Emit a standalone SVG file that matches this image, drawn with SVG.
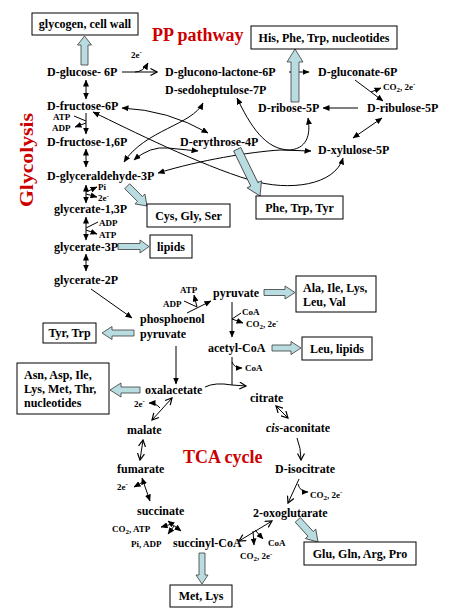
<svg xmlns="http://www.w3.org/2000/svg" width="451" height="614" viewBox="0 0 451 614">
<style>
text{font-family:"Liberation Serif","Times New Roman",serif;font-weight:bold;fill:#000}
.m{font-size:12px}
.s{font-size:9px}
.sub{font-size:7px}
.t{font-size:18px;fill:#cc0000}
.box{fill:#fff;stroke:#000;stroke-width:1}
.fat{fill:#b8dcdf;stroke:#3a3a3a;stroke-width:0.8}
.c{fill:none;stroke:#000;stroke-width:1}
.f{marker-end:url(#ah)}
.fb{marker-start:url(#ah);marker-end:url(#ah)}
.o{marker-end:url(#oh)}
.ob{marker-start:url(#oh);marker-end:url(#oh)}
</style>
<defs>
<marker id="ah" viewBox="0 0 7 6" refX="6.5" refY="3" markerWidth="7" markerHeight="6" markerUnits="userSpaceOnUse" orient="auto-start-reverse"><path d="M0,0 L7,3 L0,6 z" fill="#000"/></marker>
<marker id="oh" viewBox="0 0 8 8" refX="7" refY="4" markerWidth="8" markerHeight="8" markerUnits="userSpaceOnUse" orient="auto-start-reverse"><path d="M0.5,0.5 L7,4 L0.5,7.5" fill="none" stroke="#000" stroke-width="1.2"/></marker>
</defs>
<rect width="451" height="614" fill="#fff"/>

<!-- titles -->
<text class="t" x="152" y="41">PP pathway</text>
<text class="t" x="183" y="463">TCA cycle</text>
<text class="t" transform="translate(33,160) rotate(-90)" text-anchor="middle" style="font-size:19px" textLength="94" lengthAdjust="spacingAndGlyphs">Glycolysis</text>

<!-- connectors -->
<g id="connectors">
<path class="c o" d="M122,72 L157,72"/>
<path class="c f" d="M135,72 Q143,72 148,63"/>
<path class="c f" d="M289,72 L309,72"/>
<path class="c f" d="M355,80 L383,101"/>
<path class="c f" d="M371,92 L381,88"/>
<path class="c f" d="M358,108 L323,108"/>
<path class="c fb" d="M382,118 L353,138"/>
<path class="c fb" d="M86,80 L86,99"/>
<path class="c f" d="M86,113 L86,134"/>
<path class="c" d="M74,116 L86,121"/>
<path class="c f" d="M86,123 L75,127"/>
<path class="c fb" d="M86,149 L86,167"/>
<path class="c fb" d="M86,185 L86,203"/>
<path class="c f" d="M86,192 L97,187"/>
<path class="c f" d="M86,194 L97,197"/>
<path class="c fb" d="M86,217 L86,240"/>
<path class="c" d="M98,222 L86,228"/>
<path class="c f" d="M86,230 L97,234"/>
<path class="c fb" d="M86,254 L86,271"/>
<path class="c f" d="M91,289 L132,318"/>
<path class="c f" d="M187,313 L211,301"/>
<path class="c" d="M184,301 L197,307"/>
<path class="c f" d="M197,307 L194,295"/>
<path class="c f" d="M232,302 L232,337"/>
<path class="c" d="M232,319 L241,313"/>
<path class="c f" d="M232,319 L243,323"/>
<path class="c" d="M232,357 L232,385"/>
<path class="c f" d="M232,362 Q234,368 242,368"/>
<path class="c o" d="M205,387 Q215,382 232,385 L246,386"/>
<path class="c f" d="M176,346 L176,384"/>
<path class="c fb" d="M122,108 Q168,110 208,133"/>
<path class="c fb" d="M203,103 C192,125 145,130 124,162"/>
<path class="c fb" d="M134,160 Q150,146 168,148 L198,151"/>
<path class="c fb" d="M93,112 C130,130 200,165 250,180 C290,192 335,185 343,158"/>
<path class="c fb" d="M158,173 C200,160 250,152 280,150 L311,151"/>
<path class="c fb" d="M237,98 C250,125 265,150 290,150 C310,148 310,130 308,118"/>
<path class="c ob" d="M172,398 L152,420"/>
<path class="c f" d="M160,408 Q156,403 149,403"/>
<path class="c ob" d="M143,440 L140,460"/>
<path class="c fb" d="M142,478 L150,501"/>
<path class="c f" d="M143,482 L134,487"/>
<path class="c fb" d="M168,521 L181,531"/>
<path class="c f" d="M172,524 L161,527"/>
<path class="c f" d="M174,526 L168,534"/>
<path class="c ob" d="M276,406 L288,418"/>
<path class="c o" d="M297,438 Q301,448 301,460"/>
<path class="c o" d="M299,479 L288,503"/>
<path class="c f" d="M298,484 Q300,492 308,492"/>
<path class="c ob" d="M272,521 L239,541"/>
<path class="c f" d="M253,531 L254,545"/>
<path class="c f" d="M255,530 L263,539"/>
<polygon class="fat" points="81,65 81,45 77.5,45 84.5,36 91.5,45 88,45 88,65"/>
<polygon class="fat" points="291,102 291,62 287,62 295,49 303,62 299,62 299,102"/>
<polygon class="fat" transform="translate(147,206) rotate(45)" points="-28,-3.5 -10,-3.5 -10,-7 0,0 -10,7 -10,3.5 -28,3.5"/>
<polygon class="fat" transform="translate(260,196) rotate(64)" points="-52,-4 -13,-4 -13,-8 0,0 -13,8 -13,4 -52,4"/>
<polygon class="fat" transform="translate(149,246.5)" points="-31,-3 -9,-3 -9,-6.5 0,0 -9,6.5 -9,3 -31,3"/>
<polygon class="fat" transform="translate(102,333) rotate(180)" points="-32,-3 -10,-3 -10,-6.5 0,0 -10,6.5 -10,3 -32,3"/>
<polygon class="fat" transform="translate(295,292.5)" points="-31,-3 -10,-3 -10,-6.5 0,0 -10,6.5 -10,3 -31,3"/>
<polygon class="fat" transform="translate(301,348)" points="-29,-3 -10,-3 -10,-6.5 0,0 -10,6.5 -10,3 -29,3"/>
<polygon class="fat" transform="translate(110,390) rotate(180)" points="-30,-3 -11,-3 -11,-7 0,0 -11,7 -11,3 -30,3"/>
<polygon class="fat" transform="translate(318,542) rotate(47.7)" points="-30,-3.5 -11,-3.5 -11,-7 0,0 -11,7 -11,3.5 -30,3.5"/>
<polygon class="fat" transform="translate(202,584) rotate(90)" points="-31,-3 -9,-3 -9,-6 0,0 -9,6 -9,3 -31,3"/>
</g>

<!-- metabolite nodes -->
<g id="glucose6p"><text class="m" x="47" y="76">D-glucose- 6P</text></g>
<g id="gluconolactone"><text class="m" x="165" y="76">D-glucono-lactone-6P</text></g>
<g id="gluconate"><text class="m" x="318" y="76">D-gluconate-6P</text></g>
<g id="sedoheptulose"><text class="m" x="165" y="94">D-sedoheptulose-7P</text></g>
<g id="fructose6p"><text class="m" x="47" y="110">D-fructose-6P</text></g>
<g id="ribose"><text class="m" x="258" y="112">D-ribose-5P</text></g>
<g id="ribulose"><text class="m" x="367" y="112">D-ribulose-5P</text></g>
<g id="fructose16p"><text class="m" x="47" y="146">D-fructose-1,6P</text></g>
<g id="erythrose"><text class="m" x="180" y="146">D-erythrose-4P</text></g>
<g id="xylulose"><text class="m" x="318" y="154">D-xylulose-5P</text></g>
<g id="gap"><text class="m" x="47" y="180">D-glyceraldehyde-3P</text></g>
<g id="g13p"><text class="m" x="54" y="213">glycerate-1,3P</text></g>
<g id="g3p"><text class="m" x="54" y="251">glycerate-3P</text></g>
<g id="g2p"><text class="m" x="54" y="284">glycerate-2P</text></g>
<g id="pep"><text class="m" x="140" y="323">phosphoenol</text><text class="m" x="140" y="338">pyruvate</text></g>
<g id="pyruvate"><text class="m" x="213" y="297">pyruvate</text></g>
<g id="acetylcoa"><text class="m" x="208" y="352">acetyl-CoA</text></g>
<g id="oxalacetate"><text class="m" x="145" y="394">oxalacetate</text></g>
<g id="citrate"><text class="m" x="250" y="402">citrate</text></g>
<g id="cisaconitate"><text class="m" x="266" y="432"><tspan font-style="italic">cis</tspan>-aconitate</text></g>
<g id="malate"><text class="m" x="127" y="434">malate</text></g>
<g id="fumarate"><text class="m" x="117" y="473">fumarate</text></g>
<g id="isocitrate"><text class="m" x="275" y="473">D-isocitrate</text></g>
<g id="succinate"><text class="m" x="137" y="515">succinate</text></g>
<g id="oxoglutarate"><text class="m" x="253" y="517">2-oxoglutarate</text></g>
<g id="succinylcoa"><text class="m" x="173" y="547">succinyl-CoA</text></g>

<!-- cofactor labels -->
<g id="cofactors">
<text class="s" x="131" y="58">2e<tspan class="sub" dy="-4">-</tspan></text>
<text class="s" x="383" y="90">CO<tspan class="sub" dy="2">2</tspan><tspan dy="-2">, 2e</tspan><tspan class="sub" dy="-4">-</tspan></text>
<text class="s" x="53" y="120">ATP</text>
<text class="s" x="52" y="131">ADP</text>
<text class="s" x="98" y="190">Pi</text>
<text class="s" x="98" y="201">2e<tspan class="sub" dy="-3">-</tspan></text>
<text class="s" x="99" y="226">ADP</text>
<text class="s" x="99" y="238">ATP</text>
<text class="s" x="180" y="293">ATP</text>
<text class="s" x="163" y="307">ADP</text>
<text class="s" x="242" y="315">CoA</text>
<text class="s" x="246" y="327">CO<tspan class="sub" dy="2">2</tspan><tspan dy="-2">, 2e</tspan><tspan class="sub" dy="-4">-</tspan></text>
<text class="s" x="245" y="371">CoA</text>
<text class="s" x="134" y="407">2e<tspan class="sub" dy="-4">-</tspan></text>
<text class="s" x="117" y="490">2e<tspan class="sub" dy="-4">-</tspan></text>
<text class="s" x="112" y="532">CO<tspan class="sub" dy="2">2</tspan><tspan dy="-2">, ATP</tspan></text>
<text class="s" x="131" y="547">Pi, ADP</text>
<text class="s" x="310" y="498">CO<tspan class="sub" dy="2">2</tspan><tspan dy="-2">, 2e</tspan><tspan class="sub" dy="-4">-</tspan></text>
<text class="s" x="268" y="546">CoA</text>
<text class="s" x="240" y="559">CO<tspan class="sub" dy="2">2</tspan><tspan dy="-2">, 2e</tspan><tspan class="sub" dy="-3">-</tspan></text>
</g>

<!-- product boxes -->
<g id="box-glycogen"><rect class="box" x="32" y="13" width="106" height="22"/><text class="m" x="85" y="28" text-anchor="middle">glycogen, cell wall</text></g>
<g id="box-his"><rect class="box" x="251" y="26" width="146" height="23"/><text class="m" x="324" y="41.5" text-anchor="middle">His, Phe, Trp, nucleotides</text></g>
<g id="box-cys"><rect class="box" x="147" y="204" width="83" height="23"/><text class="m" x="188.5" y="219.5" text-anchor="middle">Cys, Gly, Ser</text></g>
<g id="box-phe"><rect class="box" x="256" y="196" width="87" height="23"/><text class="m" x="299.5" y="211.5" text-anchor="middle">Phe, Trp, Tyr</text></g>
<g id="box-lipids"><rect class="box" x="150" y="235" width="42" height="23"/><text class="m" x="171" y="250.5" text-anchor="middle">lipids</text></g>
<g id="box-tyr"><rect class="box" x="43" y="323" width="53" height="20"/><text class="m" x="69.5" y="337" text-anchor="middle">Tyr, Trp</text></g>
<g id="box-ala"><rect class="box" x="296" y="276" width="80" height="36"/><text class="m" x="303" y="292">Ala, Ile, Lys,</text><text class="m" x="303" y="306">Leu, Val</text></g>
<g id="box-leu"><rect class="box" x="302" y="337" width="70" height="23"/><text class="m" x="337" y="352.5" text-anchor="middle">Leu, lipids</text></g>
<g id="box-asn"><rect class="box" x="17" y="363" width="92" height="51"/><text class="m" x="24" y="379">Asn, Asp, Ile,</text><text class="m" x="24" y="393">Lys, Met, Thr,</text><text class="m" x="24" y="407">nucleotides</text></g>
<g id="box-glu"><rect class="box" x="304" y="542" width="112" height="23"/><text class="m" x="360" y="557.5" text-anchor="middle">Glu, Gln, Arg, Pro</text></g>
<g id="box-met"><rect class="box" x="170" y="585" width="62" height="22"/><text class="m" x="201" y="600" text-anchor="middle">Met, Lys</text></g>
</svg>
